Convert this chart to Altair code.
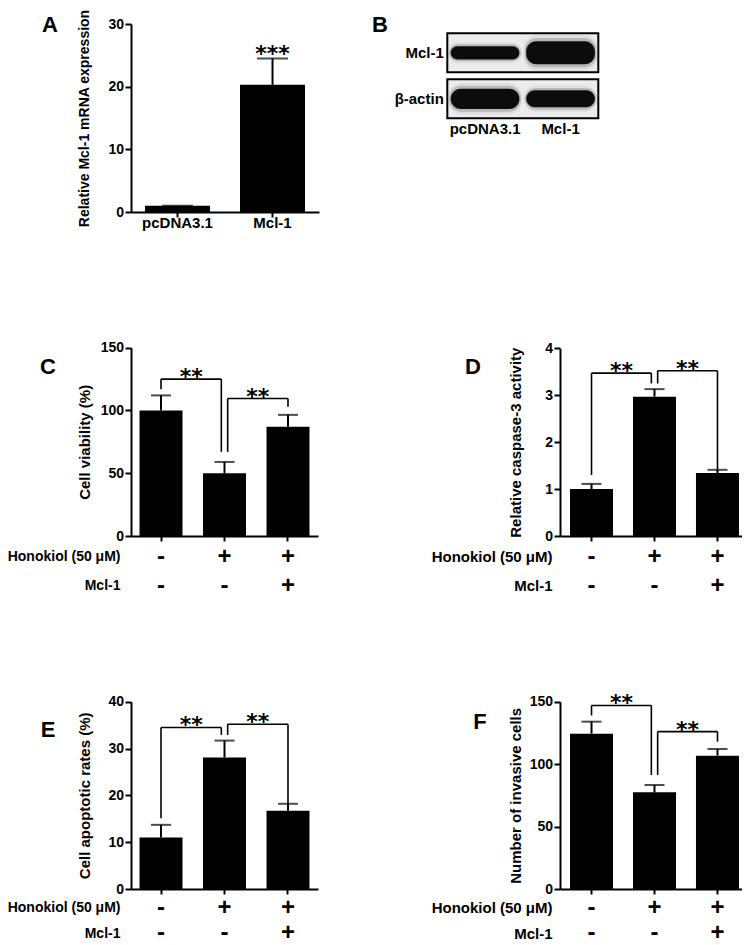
import altair as alt
import pandas as pd

# ---------------- data ----------------
# Panel A: relative Mcl-1 mRNA expression
a_groups = ["pcDNA3.1", "Mcl-1"]
a_mean = [1.0, 20.3]
a_err_top = [1.0, 24.5]
a_stars = ["", "***"]

# Panel B: western blot, relative band thickness per lane
b_lanes = ["pcDNA3.1", "Mcl-1"]
b_proteins = ["Mcl-1", "β-actin"]
b_band_mcl1 = [0.29, 0.50]
b_band_actin = [0.44, 0.37]

# Panels C-F share the treatment design
groups = ["Control", "Honokiol", "Honokiol + Mcl-1"]
row_labels = ["Honokiol (50 μM)", "Mcl-1"]
honokiol_sign = ["-", "+", "+"]
mcl1_sign = ["-", "-", "+"]
bracket_pairs = [(0, 1), (1, 2)]
bracket_text = ["**", "**"]

# Panel C: cell viability (%)
c_mean = [100.0, 50.0, 87.0]
c_err_top = [112.0, 59.0, 96.5]
c_br_top = [125.0, 109.5]
c_br_left = [117.0, 67.0]
c_br_right = [67.0, 103.0]

# Panel D: relative caspase-3 activity
d_mean = [1.0, 2.97, 1.34]
d_err_top = [1.11, 3.13, 1.41]
d_br_top = [3.47, 3.52]
d_br_left = [1.30, 3.25]
d_br_right = [3.25, 1.37]

# Panel E: cell apoptotic rates (%)
e_mean = [11.0, 28.1, 16.7]
e_err_top = [13.7, 31.7, 18.2]
e_br_top = [34.5, 35.2]
e_br_left = [15.1, 32.9]
e_br_right = [32.9, 17.6]

# Panel F: number of invasive cells
f_mean = [124.4, 77.4, 106.8]
f_err_top = [134.0, 83.3, 112.1]
f_br_top = [147.0, 126.0]
f_br_left = [139.0, 91.3]
f_br_right = [91.3, 118.0]

# ---------------- layout / style ----------------
M = 8                 # page margin
W, H = 734, 937
FONT = "Liberation Sans"
STAR_FONT = "DejaVu Sans"
GAP = 0.05            # bracket gap beside the shared middle bar (in bar units)


def P(v):
    return v - M


GEOM = {
    "A": dict(ax_x=131, x_end=319, y0=212, ytop=24, ymax=30, ticks=[0, 10, 20, 30],
              pin=0.316, pout=0.147, cap=31, title="Relative Mcl-1 mRNA expression",
              title_cx=84, title_size=14),
    "C": dict(ax_x=131, x_end=318, y0=536, ytop=347.7, ymax=150, ticks=[0, 50, 100, 150],
              pin=0.323, pout=0.134, cap=20, title="Cell viability (%)", title_cx=84,
              title_size=15, rows_y=[556.5, 585.7], row_right=120, row_size=14),
    "D": dict(ax_x=560, x_end=749, y0=536, ytop=348.3, ymax=4, ticks=[0, 1, 2, 3, 4],
              pin=0.317, pout=0.159, cap=20, title="Relative caspase-3 activity", title_cx=515,
              title_size=15, rows_y=[556.5, 585.7], row_right=552, row_size=15),
    "E": dict(ax_x=131, x_end=318, y0=889, ytop=701.7, ymax=40, ticks=[0, 10, 20, 30, 40],
              pin=0.323, pout=0.134, cap=20, title="Cell apoptotic rates (%)", title_cx=84,
              title_size=15, rows_y=[907.5, 933.0], row_right=120, row_size=14),
    "F": dict(ax_x=560, x_end=749, y0=889, ytop=701.7, ymax=150, ticks=[0, 50, 100, 150],
              pin=0.317, pout=0.159, cap=20, title="Number of invasive cells", title_cx=515,
              title_size=15, rows_y=[907.5, 933.0], row_right=552, row_size=15),
}

LETTERS = [("A", 50, 25), ("B", 380, 25), ("C", 48, 367), ("D", 473, 367),
           ("E", 48, 730), ("F", 480, 722)]


def xband(g, domain):
    return alt.Scale(type="band", domain=domain, range=[P(g["ax_x"]), P(g["x_end"])],
                     paddingInner=g["pin"], paddingOuter=g["pout"], round=False)


def ylin(g):
    return alt.Scale(type="linear", domain=[0, g["ymax"]], range=[P(g["y0"]), P(g["ytop"])],
                     nice=False, zero=False)


def band_centers(g, n):
    step = (g["x_end"] - g["ax_x"]) / (n - g["pin"] + 2 * g["pout"])
    return [g["ax_x"] + step * (g["pout"] + i) + step * (1 - g["pin"]) / 2 for i in range(n)]


def xindex(g, n):
    c = band_centers(g, n)
    return alt.Scale(type="linear", domain=[0, n - 1], range=[P(c[0]), P(c[-1])],
                     nice=False, zero=False)


def bar_layers(g, domain, mean, err_top, show_x_labels):
    df = pd.DataFrame({"group": domain, "mean": mean, "err": err_top})
    x_axis = alt.Axis(orient="bottom", offset=P(g["y0"]) - H, title=None,
                      labels=show_x_labels, labelAngle=0, tickSize=5, labelPadding=-2,
                      labelFontSize=15, grid=False)
    y_axis = alt.Axis(orient="left", offset=-P(g["ax_x"]), values=g["ticks"], format="d",
                      title=g["title"], titleX=g["title_cx"] - g["ax_x"],
                      titleBaseline="middle", titleFontSize=g["title_size"],
                      tickSize=6, labelPadding=1.5, grid=False)
    bars = alt.Chart(df).mark_bar(color="black").encode(
        x=alt.X("group:N", scale=xband(g, domain), axis=x_axis),
        y=alt.Y("mean:Q", scale=ylin(g), axis=y_axis),
    )
    stems = alt.Chart(df).mark_rule(color="black", strokeWidth=2).encode(
        x=alt.X("group:N", scale=xband(g, domain), axis=None),
        y=alt.Y("mean:Q", scale=ylin(g), axis=None),
        y2="err:Q",
    )
    caps = alt.Chart(df).mark_tick(color="black", thickness=2, size=g["cap"]).encode(
        x=alt.X("group:N", scale=xband(g, domain), axis=None),
        y=alt.Y("err:Q", scale=ylin(g), axis=None),
    )
    return [bars, stems, caps]


def bracket_layers(g, tops, lefts, rights):
    n = len(groups)
    shared = 1
    segs, stars = [], []
    for (i, j), t, lb, rb, s in zip(bracket_pairs, tops, lefts, rights, bracket_text):
        a = i + (GAP if i == shared else 0)
        b = j - (GAP if j == shared else 0)
        segs += [dict(x1=a, x2=a, y1=lb, y2=t), dict(x1=a, x2=b, y1=t, y2=t),
                 dict(x1=b, x2=b, y1=rb, y2=t)]
        stars.append(dict(xm=(a + b) / 2, y=t, s=s))
    rules = alt.Chart(pd.DataFrame(segs)).mark_rule(color="black", strokeWidth=1.6).encode(
        x=alt.X("x1:Q", scale=xindex(g, n), axis=None), x2="x2:Q",
        y=alt.Y("y1:Q", scale=ylin(g), axis=None), y2="y2:Q",
    )
    txt = alt.Chart(pd.DataFrame(stars)).mark_text(
        font=STAR_FONT, fontSize=22, fontWeight="bold", baseline="alphabetic", dy=5,
        color="black"
    ).encode(
        x=alt.X("xm:Q", scale=xindex(g, n), axis=None),
        y=alt.Y("y:Q", scale=ylin(g), axis=None),
        text="s:N",
    )
    return [rules, txt]


def sign_layer(g):
    df = pd.DataFrame({
        "group": groups * 2,
        "row": [row_labels[0]] * len(groups) + [row_labels[1]] * len(groups),
        "sign": honokiol_sign + mcl1_sign,
    })
    y_axis = alt.Axis(orient="left", offset=-P(g["ax_x"]), title=None, domain=False,
                      ticks=False, tickSize=0, labelPadding=g["ax_x"] - g["row_right"],
                      labelFontSize=g["row_size"], grid=False)
    r0, r1 = g["rows_y"]
    return alt.Chart(df).mark_text(font=FONT, fontWeight="bold", fontSize=24,
                                   color="black").encode(
        x=alt.X("group:N", scale=xband(g, groups), axis=None),
        y=alt.Y("row:N", scale=alt.Scale(type="point", domain=row_labels,
                                          range=[P(r0), P(r1)], padding=0), axis=y_axis),
        text="sign:N",
    )


layers = []

# ---- Panel A ----
gA = GEOM["A"]
layers += bar_layers(gA, a_groups, a_mean, a_err_top, True)
a_df = pd.DataFrame({"group": a_groups, "err": a_err_top, "s": a_stars})
layers.append(
    alt.Chart(a_df).mark_text(font=STAR_FONT, fontSize=22, fontWeight="bold",
                              baseline="alphabetic", dy=2.5, color="black").encode(
        x=alt.X("group:N", scale=xband(gA, a_groups), axis=None),
        y=alt.Y("err:Q", scale=ylin(gA), axis=None),
        text="s:N",
    )
)

# ---- Panel B (blot) ----
box_y = alt.Scale(type="band", domain=b_proteins, range=[P(33.3), P(118.3)],
                  paddingInner=0.152, paddingOuter=0, round=False)
box_x = alt.Scale(type="linear", domain=[0, 1], range=[P(447.3), P(598.3)], nice=False,
                  zero=False)
boxes = alt.Chart(pd.DataFrame({"protein": b_proteins})).transform_calculate(
    left="0", right="1"
).mark_rect(fill="#ececec", stroke="black", strokeWidth=2).encode(
    x=alt.X("left:Q", scale=box_x, axis=None), x2="right:Q",
    y=alt.Y("protein:N", scale=box_y,
            axis=alt.Axis(orient="left", offset=-P(447.3), title=None, domain=False,
                          ticks=False, tickSize=0, labelPadding=4, labelFontSize=15)),
)
layers.append(boxes)

band_df = pd.DataFrame({
    "protein": [p for p in b_proteins for _ in b_lanes],
    "lane": b_lanes * len(b_proteins),
    "thick": b_band_mcl1 + b_band_actin,
})
band_df["row"] = band_df["protein"].map({p: i for i, p in enumerate(b_proteins)})
band_y = alt.Scale(type="linear", domain=[-0.5, 1.5], range=[P(29.8), P(121.8)], nice=False,
                   zero=False)


def lane_x(pin, pout):
    return alt.Scale(type="band", domain=b_lanes, range=[P(447.3), P(598.3)],
                     paddingInner=pin, paddingOuter=pout, round=False)


def band_layer(spread, pin, pout, color, opacity, radius, axis=None):
    return alt.Chart(band_df).transform_calculate(
        y1=f"datum.row - datum.thick * {spread}", y2=f"datum.row + datum.thick * {spread}"
    ).mark_rect(color=color, opacity=opacity, cornerRadius=radius).encode(
        x=alt.X("lane:N", scale=lane_x(pin, pout), axis=axis),
        y=alt.Y("y1:Q", scale=band_y, axis=None), y2="y2:Q",
    )


lane_axis = alt.Axis(orient="bottom", offset=P(118.3) - H, title=None, domain=False,
                     ticks=False, tickSize=0, labelPadding=3, labelAngle=0, labelFontSize=15)
layers += [
    band_layer(0.78, 0.02, 0.01, "#999999", 0.15, 14),
    band_layer(0.64, 0.05, 0.025, "#555555", 0.28, 12),
    band_layer(0.50, 0.09, 0.045, "#0c0c0c", 1.0, 10, lane_axis),
]

# ---- Panels C-F ----
for key, mean, err, top, lft, rgt in [
    ("C", c_mean, c_err_top, c_br_top, c_br_left, c_br_right),
    ("D", d_mean, d_err_top, d_br_top, d_br_left, d_br_right),
    ("E", e_mean, e_err_top, e_br_top, e_br_left, e_br_right),
    ("F", f_mean, f_err_top, f_br_top, f_br_left, f_br_right),
]:
    g = GEOM[key]
    layers += bar_layers(g, groups, mean, err, False)
    layers += bracket_layers(g, top, lft, rgt)
    layers.append(sign_layer(g))

# ---- panel letters ----
for letter, lx, ly in LETTERS:
    layers.append(
        alt.Chart(pd.DataFrame({"label": [letter]})).mark_text(
            font=FONT, fontWeight="bold", fontSize=22, color="black",
            align="center", baseline="middle"
        ).encode(x=alt.value(P(lx)), y=alt.value(P(ly)), text="label:N")
    )

chart = alt.layer(*layers).resolve_scale(
    x="independent", y="independent"
).properties(
    width=W, height=H, autosize=alt.AutoSizeParams(type="none"), padding=0,
    background="white",
).configure_view(stroke=None).configure_axis(
    labelFont=FONT, labelFontWeight="bold", labelFontSize=14, labelColor="black",
    titleFont=FONT, titleFontWeight="bold", titleFontSize=15, titleColor="black",
    domainColor="black", domainWidth=2, tickColor="black", tickWidth=2, grid=False,
)

chart.save("out.html", embed_options={"renderer": "svg", "actions": False})
